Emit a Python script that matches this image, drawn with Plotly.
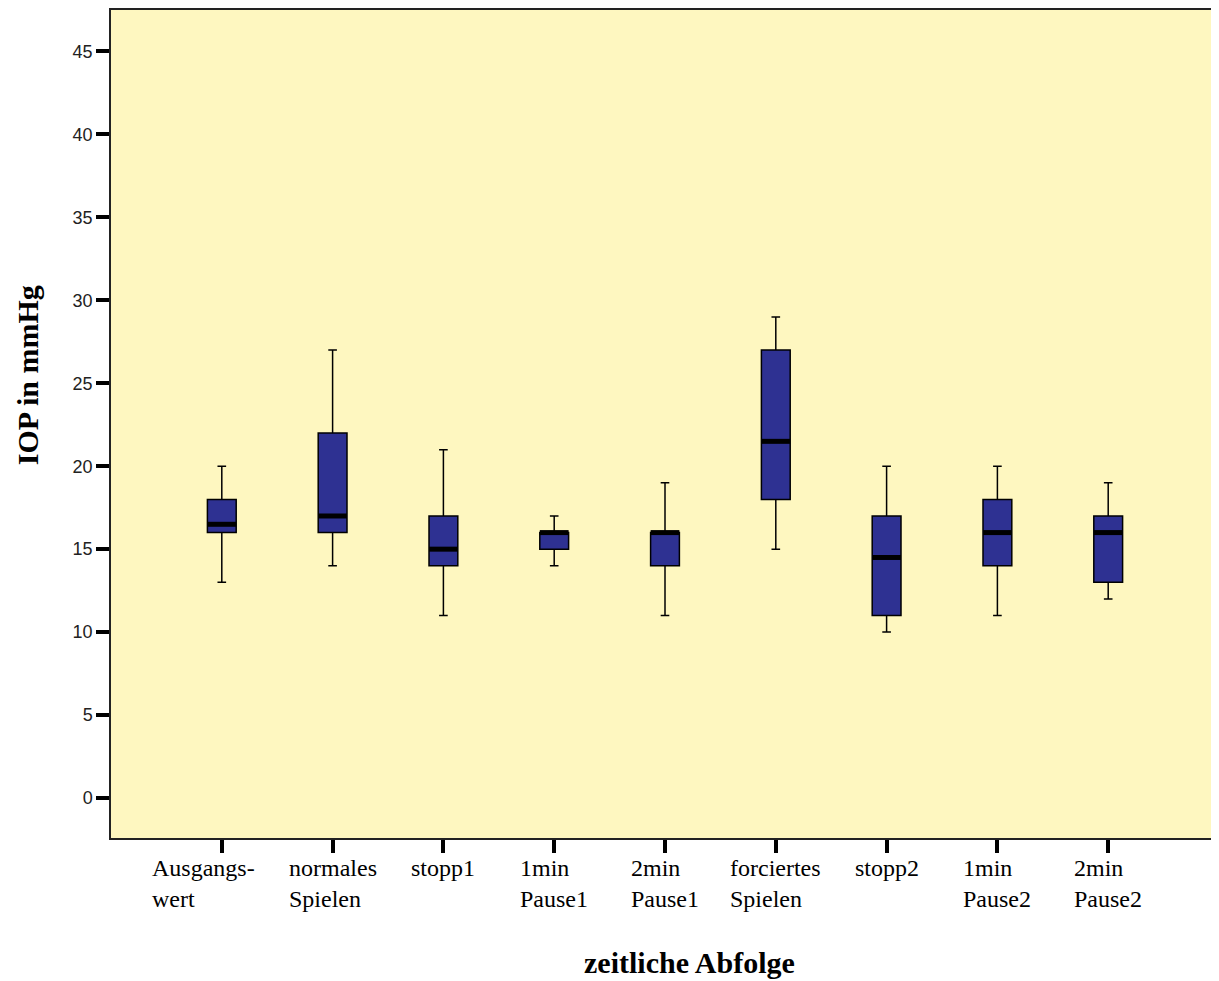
import plotly.graph_objects as go

categories = ["Ausgangs-<br>wert", "normales<br>Spielen", "stopp1", "1min<br>Pause1", "2min<br>Pause1",
              "forciertes<br>Spielen", "stopp2", "1min<br>Pause2", "2min<br>Pause2"]
lower = [13, 14, 11, 14, 11, 15, 10, 11, 12]
q1 = [16, 16, 14, 15, 14, 18, 11, 14, 13]
median = [16.5, 17, 15, 16, 16, 21.5, 14.5, 16, 16]
q3 = [18, 22, 17, 16, 16, 27, 17, 18, 17]
upper = [20, 27, 21, 17, 19, 29, 20, 20, 19]
yticks = [0, 5, 10, 15, 20, 25, 30, 35, 40, 45]

positions = list(range(1, len(categories) + 1))
box_w = 0.26

fig = go.Figure()
fig.add_trace(go.Box(
    x=positions, q1=q1, median=median, q3=q3, lowerfence=lower, upperfence=upper,
    width=box_w, whiskerwidth=0.3, fillcolor="#2E3192",
    line=dict(color="black", width=1.5), boxpoints=False, showlegend=False, hoverinfo="skip"
))
mx, my = [], []
for p, m in zip(positions, median):
    mx += [p - box_w / 2, p + box_w / 2, None]
    my += [m, m, None]
fig.add_trace(go.Scatter(x=mx, y=my, mode="lines", line=dict(color="black", width=5),
                         showlegend=False, hoverinfo="skip"))

annotations = []
for i, (p, c) in enumerate(zip(positions, categories)):
    annotations.append(dict(x=p, y=0, xref="x", yref="paper", text=c, showarrow=False,
                            xanchor="center", yanchor="top", align="left", yshift=-15,
                            xshift=-18 if i == 0 else 0,
                            font=dict(family="Liberation Serif", size=24, color="black")))
annotations.append(dict(x=0.5217, y=0, xref="paper", yref="paper", text="<b>zeitliche Abfolge</b>",
                        showarrow=False, xanchor="center", yanchor="middle", yshift=-124,
                        font=dict(family="Liberation Serif", size=30, color="black")))
annotations.append(dict(x=0, y=0.559, xref="paper", yref="paper", text="<b>IOP in mmHg</b>",
                        showarrow=False, xanchor="center", yanchor="middle", xshift=-84, textangle=-90,
                        font=dict(family="Liberation Serif", size=30, color="black")))

fig.update_layout(
    width=1211, height=973,
    margin=dict(l=103, r=0, t=2, b=143),
    paper_bgcolor="white", plot_bgcolor="#FEF7C0",
    annotations=annotations,
)
fig.update_xaxes(range=[0, 10], tickvals=positions, ticktext=[""] * len(positions),
                 ticks="outside", ticklen=13, tickwidth=4, tickcolor="black",
                 showline=True, linecolor="#222", linewidth=1.5, mirror=True,
                 showgrid=False, zeroline=False)
fig.update_yaxes(range=[-2.41, 47.5], tickvals=yticks, ticks="outside", ticklen=13, tickwidth=4,
                 tickcolor="black", showline=True, linecolor="#222", linewidth=1.5,
                 showgrid=False, zeroline=False,
                 tickfont=dict(family="Liberation Sans", size=18, color="#222"))

fig.write_html("out.html")
